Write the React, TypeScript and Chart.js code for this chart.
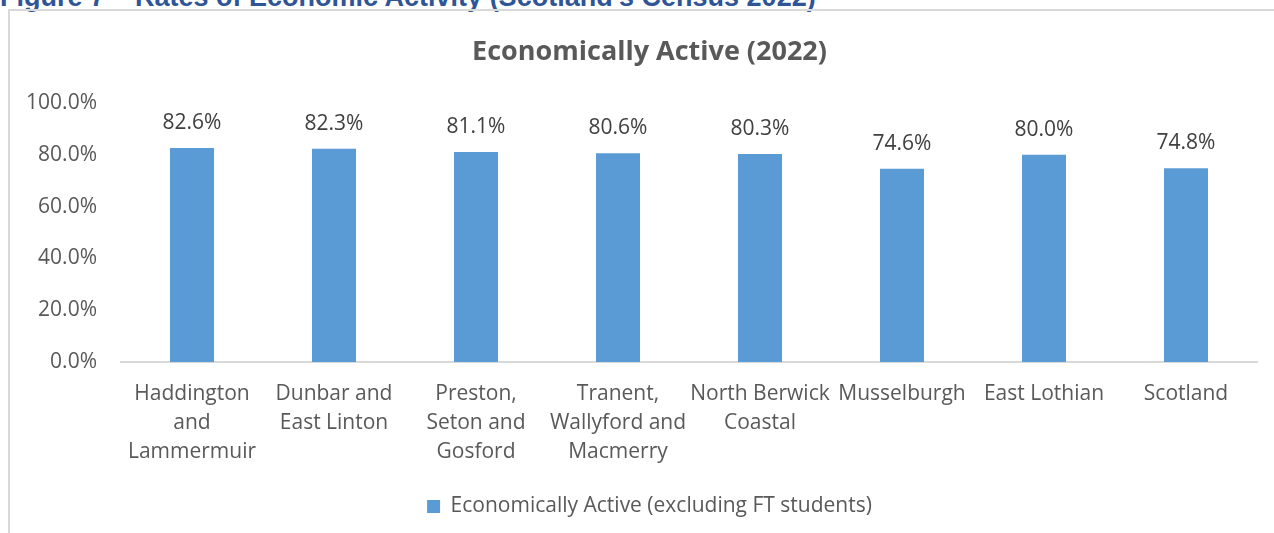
import React, { useEffect, useRef } from "react";
import { Chart, registerables } from "chart.js";

Chart.register(...registerables);

const categories: (string | string[])[] = [
  ["Haddington", "and", "Lammermuir"],
  ["Dunbar and", "East Linton"],
  ["Preston,", "Seton and", "Gosford"],
  ["Tranent,", "Wallyford and", "Macmerry"],
  ["North Berwick", "Coastal"],
  "Musselburgh",
  "East Lothian",
  "Scotland",
];
const activeValues = [82.6, 82.3, 81.1, 80.6, 80.3, 74.6, 80.0, 74.8];
const seriesName = "Economically Active (excluding FT students)";
const chartTitle = "Economically Active (2022)";
const figureCaption = "Figure 7 – Rates of Economic Activity (Scotland's Census 2022)";
const yMin = 0;
const yMax = 100;
const yStep = 20;

const FONT = "'Open Sans', sans-serif";

const dataLabelPlugin = {
  id: "dataLabels",
  afterDatasetsDraw(chart: any) {
    const ctx = chart.ctx;
    const meta = chart.getDatasetMeta(0);
    const ds = chart.data.datasets[0];
    ctx.save();
    ctx.font = `21px ${FONT}`;
    ctx.fillStyle = "#404040";
    ctx.textAlign = "center";
    ctx.textBaseline = "middle";
    meta.data.forEach((bar: any, i: number) => {
      const v = ds.data[i] as number;
      ctx.fillText(`${v.toFixed(1)}%`, bar.x, bar.y - 25);
    });
    ctx.restore();
  },
};

export default function App() {
  const ref = useRef<HTMLCanvasElement>(null);
  useEffect(() => {
    if (!ref.current) return;
    const chart = new Chart(ref.current, {
      type: "bar",
      data: {
        labels: categories,
        datasets: [
          {
            label: seriesName,
            data: activeValues,
            backgroundColor: "#5B9BD5",
            borderWidth: 0,
            categoryPercentage: 1,
            barPercentage: 0.31,
          },
        ],
      },
      options: {
        responsive: false,
        animation: false,
        layout: { padding: { left: 32, right: 17, top: 0, bottom: 6 } },
        plugins: {
          title: {
            display: true,
            text: chartTitle,
            color: "#595959",
            font: { family: FONT, size: 27, weight: "bold", lineHeight: 1.2 },
            padding: { top: 24.8, bottom: 34.8 },
          },
          legend: {
            position: "bottom",
            labels: {
              color: "#595959",
              font: { family: FONT, size: 21 },
              boxWidth: 13,
              boxHeight: 13,
              padding: 10,
            },
          },
          tooltip: { enabled: false },
        },
        scales: {
          x: {
            grid: { display: false, drawTicks: false },
            border: { display: true, color: "#D9D9D9", width: 2 },
            ticks: {
              color: "#595959",
              font: { family: FONT, size: 21, lineHeight: 1.38 },
              padding: 18,
              maxRotation: 0,
              autoSkip: false,
            },
            afterFit: (s: any) => {
              s.height = 124;
            },
          },
          y: {
            min: yMin,
            max: yMax,
            grid: { display: false, drawTicks: false },
            border: { display: false },
            ticks: {
              stepSize: yStep,
              color: "#595959",
              font: { family: FONT, size: 21 },
              padding: 24,
              callback: (v: any) => `${Number(v).toFixed(1)}%`,
            },
            afterFit: (s: any) => {
              s.width = 79;
              // let the tick labels run into the layout padding instead of being clipped
              s._computeLabelArea = () => undefined;
            },
          },
        },
      },
      plugins: [dataLabelPlugin],
    });
    return () => chart.destroy();
  }, []);

  return (
    <div
      style={{
        position: "absolute",
        left: 0,
        top: 0,
        width: 1274,
        height: 533,
        overflow: "hidden",
        background: "#fff",
      }}
    >
      <div
        style={{
          position: "absolute",
          left: 0,
          top: -16,
          whiteSpace: "nowrap",
          fontFamily: "'Liberation Sans', Arial, sans-serif",
          fontWeight: "bold",
          fontSize: 27,
          lineHeight: 1,
          color: "#2F5597",
        }}
      >
        {figureCaption}
      </div>
      <div
        style={{
          position: "absolute",
          left: 8,
          top: 9,
          width: 1300,
          height: 600,
          border: "2px solid #D9D9D9",
        }}
      />
      <canvas
        ref={ref}
        width={1264}
        height={522}
        style={{ position: "absolute", left: 10, top: 11, display: "block" }}
      />
    </div>
  );
}
